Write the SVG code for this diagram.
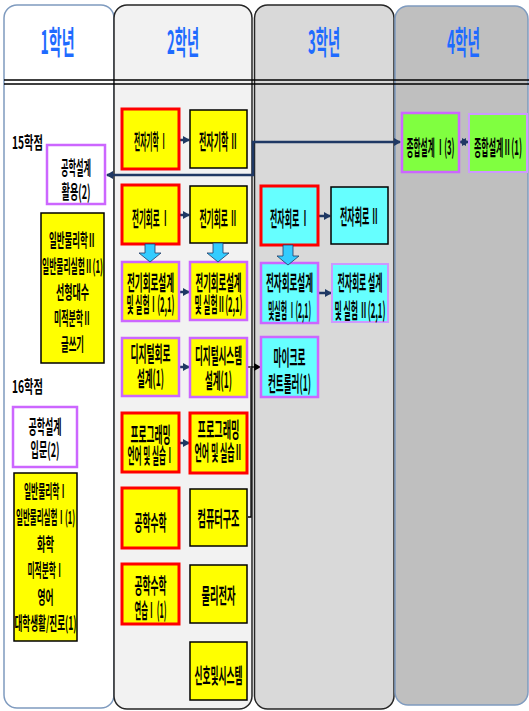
<svg xmlns="http://www.w3.org/2000/svg" width="529" height="711" viewBox="0 0 529 711">
<style>
.t{font-family:"Noto Sans CJK KR",sans-serif;font-size:21px;font-weight:bold;text-anchor:middle;fill:#000}
.s{font-size:18px}
.s2{font-size:19px}
.h{font-family:"Noto Sans CJK KR",sans-serif;font-size:32px;font-weight:bold;text-anchor:middle;fill:#1f6bff}
.cr{font-family:"Noto Sans CJK KR",sans-serif;font-size:17px;font-weight:bold;fill:#000}
.y{fill:#ffff00}
.c{fill:#66ffff}
.g{fill:#80ff40}
.w{fill:#ffffff}
.red{stroke:#ff0000;stroke-width:3}
.blk{stroke:#000;stroke-width:1.5}
.pur{stroke:#cc66ff;stroke-width:2.5}
.lp{stroke:#cc99ff;stroke-width:2}
.nv{fill:none;stroke:#1f3864;stroke-width:2.5}
.bk{fill:none;stroke:#000;stroke-width:1.3}
.ba{fill:#33ccff;stroke:#1f3864;stroke-width:0.8}
</style>
<defs>
<marker id="an" markerUnits="userSpaceOnUse" markerWidth="7" markerHeight="8" refX="6" refY="4" orient="auto-start-reverse"><path d="M0,0 L7,4 L0,8 z" fill="#1f3864"/></marker>
<marker id="ab" markerUnits="userSpaceOnUse" markerWidth="7" markerHeight="8" refX="6" refY="4" orient="auto"><path d="M0,0 L7,4 L0,8 z" fill="#000"/></marker>
</defs>

<g id="columns">
<rect x="4" y="5" width="110" height="703" rx="13" fill="#ffffff" stroke="#7f9bbf" stroke-width="1.5"/>
<rect x="114" y="5" width="138" height="704" rx="13" fill="#f2f2f2" stroke="#262626" stroke-width="1.5"/>
<rect x="254.5" y="5" width="139.5" height="704" rx="13" fill="#d9d9d9" stroke="#262626" stroke-width="1.5"/>
<rect x="395" y="6" width="133" height="699" rx="13" fill="#bfbfbf" stroke="#7f9bbf" stroke-width="1.5"/>
<line x1="4" y1="80" x2="529" y2="80" stroke="#000" stroke-width="1.6"/>
<line x1="4" y1="84" x2="529" y2="84" stroke="#000" stroke-width="1.6"/>
<text class="h" x="57.5" y="54" textLength="34" lengthAdjust="spacingAndGlyphs">1학년</text>
<text class="h" x="183" y="54" textLength="32" lengthAdjust="spacingAndGlyphs">2학년</text>
<text class="h" x="324" y="54" textLength="32" lengthAdjust="spacingAndGlyphs">3학년</text>
<text class="h" x="463.5" y="54" textLength="33" lengthAdjust="spacingAndGlyphs">4학년</text>
<text class="cr" x="12" y="149" textLength="31" lengthAdjust="spacingAndGlyphs">15학점</text>
<text class="cr" x="12" y="393" textLength="31" lengthAdjust="spacingAndGlyphs">16학점</text>
</g>

<g id="connectors">
<path class="nv" d="M107,175 H253 V142 H400" marker-start="url(#an)" marker-end="url(#an)"/>
<path class="nv" d="M180,140 H189" marker-end="url(#an)"/>
<path class="nv" d="M180,215 H189" marker-end="url(#an)"/>
<path class="nv" d="M180,292 H189" marker-end="url(#an)"/>
<path class="nv" d="M180,367 H189" marker-end="url(#an)"/>
<path class="nv" d="M180,443 H189" marker-end="url(#an)"/>
<path class="nv" d="M319,216 H330" marker-end="url(#an)"/>
<path class="nv" d="M319,293 H331" marker-end="url(#an)"/>
<path class="nv" d="M460,142 H468" marker-start="url(#an)" marker-end="url(#an)"/>
<path class="bk" d="M248,367 H260" marker-end="url(#ab)"/>
<path class="bk" d="M248,517 H251 V368"/>
</g>

<g id="n-design-use"><rect class="w pur" x="47" y="145" width="58" height="59"/>
<text class="t s2" transform="translate(76,175) scale(0.42,1)" textLength="71.4" lengthAdjust="spacingAndGlyphs">공학설계</text>
<text class="t s2" transform="translate(76,199) scale(0.42,1)" textLength="69" lengthAdjust="spacingAndGlyphs">활용(2)</text></g>

<g id="n-y1-2"><rect class="y blk" x="41" y="213" width="63" height="150"/>
<text class="t s" transform="translate(72.5,247) scale(0.42,1)" textLength="111.9" lengthAdjust="spacingAndGlyphs">일반물리학Ⅱ</text>
<text class="t s" transform="translate(72.5,273) scale(0.42,1)" textLength="145.2" lengthAdjust="spacingAndGlyphs">일반물리실험Ⅱ(1)</text>
<text class="t s" transform="translate(72.5,299) scale(0.42,1)" textLength="78.6" lengthAdjust="spacingAndGlyphs">선형대수</text>
<text class="t s" transform="translate(72.5,325) scale(0.42,1)" textLength="88.1" lengthAdjust="spacingAndGlyphs">미적분학Ⅱ</text>
<text class="t s" transform="translate(72.5,351) scale(0.42,1)" textLength="54.8" lengthAdjust="spacingAndGlyphs">글쓰기</text></g>

<g id="n-design-intro"><rect class="w pur" x="13" y="407" width="64" height="60"/>
<text class="t s2" transform="translate(45,434) scale(0.42,1)" textLength="78.6" lengthAdjust="spacingAndGlyphs">공학설계</text>
<text class="t s2" transform="translate(45,457) scale(0.42,1)" textLength="69" lengthAdjust="spacingAndGlyphs">입문(2)</text></g>

<g id="n-y1-1"><rect class="y blk" x="14" y="473" width="63" height="168"/>
<text class="t s" transform="translate(45.5,498) scale(0.42,1)" textLength="102.4" lengthAdjust="spacingAndGlyphs">일반물리학Ⅰ</text>
<text class="t s" transform="translate(45.5,524) scale(0.42,1)" textLength="140.5" lengthAdjust="spacingAndGlyphs">일반물리실험Ⅰ(1)</text>
<text class="t s" transform="translate(45.5,551) scale(0.42,1)" textLength="40.5" lengthAdjust="spacingAndGlyphs">화학</text>
<text class="t s" transform="translate(45.5,577) scale(0.42,1)" textLength="85.7" lengthAdjust="spacingAndGlyphs">미적분학Ⅰ</text>
<text class="t s" transform="translate(45.5,604) scale(0.42,1)" textLength="38.1" lengthAdjust="spacingAndGlyphs">영어</text>
<text class="t s" transform="translate(45.5,630) scale(0.42,1)" textLength="147.6" lengthAdjust="spacingAndGlyphs">대학생활/진로(1)</text></g>

<g id="n-em1"><rect class="y red" x="122" y="109" width="57" height="60"/>
<text class="t" transform="translate(150.5,149) scale(0.42,1)" textLength="78.6" lengthAdjust="spacingAndGlyphs">전자기학 Ⅰ</text></g>
<g id="n-em2"><rect class="y blk" x="190" y="110" width="57" height="58"/>
<text class="t" transform="translate(218.5,149) scale(0.42,1)" textLength="92.9" lengthAdjust="spacingAndGlyphs">전자기학 Ⅱ</text></g>

<g id="n-ec1"><rect class="y red" x="122" y="185" width="57" height="59"/>
<text class="t" transform="translate(150.5,226) scale(0.42,1)" textLength="88.1" lengthAdjust="spacingAndGlyphs">전기회로 Ⅰ</text></g>
<g id="n-ec2"><rect class="y blk" x="190" y="186" width="57" height="57"/>
<text class="t" transform="translate(218.5,226) scale(0.42,1)" textLength="90.5" lengthAdjust="spacingAndGlyphs">전기회로 Ⅱ</text></g>

<g id="n-ecl1"><rect class="y pur" x="122" y="262" width="57" height="59"/>
<text class="t" transform="translate(150.5,290) scale(0.42,1)" textLength="111.9" lengthAdjust="spacingAndGlyphs">전기회로설계</text>
<text class="t" transform="translate(150.5,312) scale(0.42,1)" textLength="114.3" lengthAdjust="spacingAndGlyphs">및 실험Ⅰ(2,1)</text></g>
<g id="n-ecl2"><rect class="y pur" x="190" y="262" width="57" height="58"/>
<text class="t" transform="translate(218.5,290) scale(0.42,1)" textLength="109.5" lengthAdjust="spacingAndGlyphs">전기회로설계</text>
<text class="t" transform="translate(218.5,312) scale(0.42,1)" textLength="114.3" lengthAdjust="spacingAndGlyphs">및 실험Ⅱ(2,1)</text></g>

<g id="n-dc"><rect class="y pur" x="122" y="338" width="57" height="58"/>
<text class="t" transform="translate(150.5,361) scale(0.42,1)" textLength="95.2" lengthAdjust="spacingAndGlyphs">디지털회로</text>
<text class="t" transform="translate(150.5,386) scale(0.42,1)" textLength="64.3" lengthAdjust="spacingAndGlyphs">설계(1)</text></g>
<g id="n-ds"><rect class="y pur" x="190" y="338" width="57" height="59"/>
<text class="t" transform="translate(218.5,363) scale(0.42,1)" textLength="111.9" lengthAdjust="spacingAndGlyphs">디지털시스템</text>
<text class="t" transform="translate(218.5,388) scale(0.42,1)" textLength="64.3" lengthAdjust="spacingAndGlyphs">설계(1)</text></g>

<g id="n-pl1"><rect class="y red" x="122" y="413" width="57" height="59"/>
<text class="t" transform="translate(150.5,442) scale(0.42,1)" textLength="95.2" lengthAdjust="spacingAndGlyphs">프로그래밍</text>
<text class="t" transform="translate(150.5,463) scale(0.42,1)" textLength="109.5" lengthAdjust="spacingAndGlyphs">언어 및 실습Ⅰ</text></g>
<g id="n-pl2"><rect class="y red" x="190" y="413" width="57" height="60"/>
<text class="t" transform="translate(218.5,437) scale(0.42,1)" textLength="100" lengthAdjust="spacingAndGlyphs">프로그래밍</text>
<text class="t" transform="translate(218.5,460) scale(0.42,1)" textLength="114.3" lengthAdjust="spacingAndGlyphs">언어 및 실습Ⅱ</text></g>

<g id="n-em"><rect class="y red" x="122" y="488" width="57" height="60"/>
<text class="t" transform="translate(150.5,530) scale(0.42,1)" textLength="76.2" lengthAdjust="spacingAndGlyphs">공학수학</text></g>
<g id="n-ca"><rect class="y blk" x="190" y="489" width="57" height="57"/>
<text class="t" transform="translate(218.5,526) scale(0.42,1)" textLength="100" lengthAdjust="spacingAndGlyphs">컴퓨터구조</text></g>

<g id="n-emp"><rect class="y red" x="122" y="564" width="57" height="60"/>
<text class="t" transform="translate(150.5,593) scale(0.42,1)" textLength="76.2" lengthAdjust="spacingAndGlyphs">공학수학</text>
<text class="t" transform="translate(150.5,618) scale(0.42,1)" textLength="76.2" lengthAdjust="spacingAndGlyphs">연습Ⅰ (1)</text></g>
<g id="n-pe"><rect class="y blk" x="190" y="565" width="57" height="58"/>
<text class="t" transform="translate(218.5,603) scale(0.42,1)" textLength="81" lengthAdjust="spacingAndGlyphs">물리전자</text></g>

<g id="n-ss"><rect class="y blk" x="190" y="642" width="57" height="58"/>
<text class="t" transform="translate(218.5,683) scale(0.42,1)" textLength="114.3" lengthAdjust="spacingAndGlyphs">신호및시스템</text></g>

<g id="n-el1"><rect class="c red" x="261" y="186" width="57" height="59"/>
<text class="t" transform="translate(289.5,226) scale(0.42,1)" textLength="92.9" lengthAdjust="spacingAndGlyphs">전자회로 Ⅰ</text></g>
<g id="n-el2"><rect class="c blk" x="331" y="187" width="57" height="57"/>
<text class="t" transform="translate(359.5,224) scale(0.42,1)" textLength="92.9" lengthAdjust="spacingAndGlyphs">전자회로 Ⅱ</text></g>

<g id="n-ell1"><rect class="c pur" x="261" y="263" width="57" height="60"/>
<text class="t" transform="translate(289.5,290) scale(0.42,1)" textLength="111.9" lengthAdjust="spacingAndGlyphs">전자회로설계</text>
<text class="t" transform="translate(289.5,318) scale(0.42,1)" textLength="102.4" lengthAdjust="spacingAndGlyphs">및실험 Ⅰ(2,1)</text></g>
<g id="n-ell2"><rect class="c lp" x="332" y="264" width="56" height="58"/>
<text class="t" transform="translate(360,290) scale(0.42,1)" textLength="107.1" lengthAdjust="spacingAndGlyphs">전자회로 설계</text>
<text class="t" transform="translate(360,318) scale(0.42,1)" textLength="121.4" lengthAdjust="spacingAndGlyphs">및 실험 Ⅱ(2,1)</text></g>

<g id="n-mc"><rect class="c pur" x="261" y="337" width="57" height="60"/>
<text class="t" transform="translate(289.5,365) scale(0.42,1)" textLength="76.2" lengthAdjust="spacingAndGlyphs">마이크로</text>
<text class="t" transform="translate(289.5,391) scale(0.42,1)" textLength="102.4" lengthAdjust="spacingAndGlyphs">컨트롤러(1)</text></g>

<g id="n-cd1"><rect class="g pur" x="402" y="113" width="57" height="59"/>
<text class="t" transform="translate(430.5,155) scale(0.42,1)" textLength="114.3" lengthAdjust="spacingAndGlyphs">종합설계 Ⅰ(3)</text></g>
<g id="n-cd2"><rect class="g lp" x="469" y="114" width="58" height="58"/>
<text class="t" transform="translate(498,155) scale(0.42,1)" textLength="114.3" lengthAdjust="spacingAndGlyphs">종합설계Ⅱ(1)</text></g>

<g id="block-arrows">
<path class="ba" d="M145,244 H155 V253 H161 L150,262 L139,253 H145 Z"/>
<path class="ba" d="M213,243 H223 V253 H229 L218,262 L207,253 H213 Z"/>
<path class="ba" d="M283,245 H293 V256 H299 L288,265 L277,256 H283 Z"/>
</g>
</svg>
